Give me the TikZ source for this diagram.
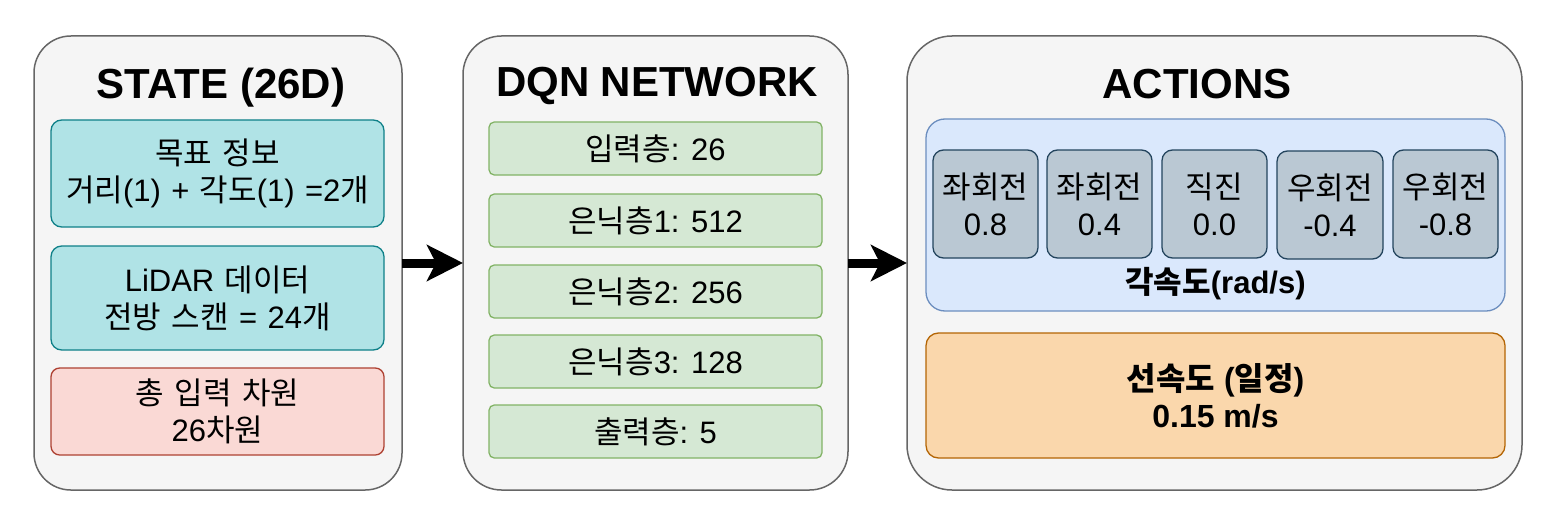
\documentclass[tikz,border=0pt]{standalone}
\usepackage{fontspec}
\setmainfont{Liberation Sans}
\newfontfamily\kr{Noto Sans CJK KR}
\usetikzlibrary{arrows.meta}
\definecolor{contfill}{HTML}{F5F5F5}
\definecolor{contline}{HTML}{666666}
\definecolor{tealfill}{HTML}{B0E3E6}
\definecolor{tealline}{HTML}{0E8088}
\definecolor{redfill}{HTML}{FAD9D5}
\definecolor{redline}{HTML}{AE4132}
\definecolor{greenfill}{HTML}{D5E8D4}
\definecolor{greenline}{HTML}{82B366}
\definecolor{bluefill}{HTML}{DAE8FC}
\definecolor{blueline}{HTML}{6C8EBF}
\definecolor{grayfill}{HTML}{BAC8D3}
\definecolor{grayline}{HTML}{23445D}
\definecolor{orangefill}{HTML}{FAD7AC}
\definecolor{orangeline}{HTML}{B46504}
\begin{document}
\begin{tikzpicture}[x=1pt,y=-1pt,
  every node/.style={inner sep=0pt, outer sep=0pt, align=center},
  cont/.style={draw=contline, fill=contfill, line width=1.5pt},
  bx/.style={line width=1.3pt, font=\fontsize{31}{37}\selectfont},
  tealbox/.style={bx, draw=tealline, fill=tealfill, rounded corners=10.7pt, minimum width=333pt, text width=330pt},
  redbox/.style={bx, draw=redline, fill=redfill, rounded corners=8.7pt, minimum width=333pt, text width=330pt},
  greenbox/.style={bx, draw=greenline, fill=greenfill, rounded corners=5.3pt, minimum width=333pt, minimum height=53pt},
  actbox/.style={bx, draw=grayline, fill=grayfill, rounded corners=10.5pt, minimum height=108pt},
  title/.style={font=\fontsize{42}{48}\selectfont\bfseries},
  flow/.style={line width=9pt, -{Stealth[length=36pt,width=36pt,inset=9pt]}}
]
\useasboundingbox (0,0) rectangle (1552,532);
% containers
\node[cont, rounded corners=36.8pt, minimum width=368pt, minimum height=454pt] (state) at (218,263) {};
\node[cont, rounded corners=38.5pt, minimum width=385pt, minimum height=454pt] (dqn) at (655.5,263) {};
\node[cont, rounded corners=45pt, minimum width=615pt, minimum height=454pt] (act) at (1214.5,263) {};
% titles
\node[title] (tstate) at (221,88) {STATE (26D)};
\node[title] (tdqn) at (657,86) {DQN NETWORK};
\node[title] (tact) at (1197,84) {ACTIONS};
% state boxes
\node[tealbox, minimum height=107pt] (s1) at (217.5,173.5) {{\kr 목표 정보}\\{\kr 거리}(1) + {\kr 각도}(1) =2{\kr 개}};
\node[tealbox, minimum height=104pt] (s2) at (217.5,298) {LiDAR {\kr 데이터}\\{\kr 전방 스캔} = 24{\kr 개}};
\node[redbox, minimum height=87pt] (s3) at (217.5,411.5) {{\kr 총 입력 차원}\\26{\kr 차원}};
% dqn boxes
\node[greenbox] (d1) at (655.5,148.5) {{\kr 입력층}: 26};
\node[greenbox] (d2) at (655.5,220.5) {{\kr 은닉층}1: 512};
\node[greenbox] (d3) at (655.5,291.5) {{\kr 은닉층}2: 256};
\node[greenbox] (d4) at (655.5,361.5) {{\kr 은닉층}3: 128};
\node[greenbox] (d5) at (655.5,431.5) {{\kr 출력층}: 5};
% actions
\node[bx, draw=blueline, fill=bluefill, rounded corners=19pt, minimum width=579pt, minimum height=192pt] (ang) at (1215.5,215) {};
\node[bx, font=\fontsize{31}{37}\selectfont\bfseries] (angl) at (1215.5,284) {{\kr\bfseries 각속도}(rad/s)};
\node[actbox, minimum width=105pt] (a1) at (985.5,204) {{\kr 좌회전}\\0.8};
\node[actbox, minimum width=105pt] (a2) at (1099.5,204) {{\kr 좌회전}\\0.4};
\node[actbox, minimum width=105pt] (a3) at (1214.5,204) {{\kr 직진}\\0.0};
\node[actbox, minimum width=106pt] (a4) at (1330,205) {{\kr 우회전}\\-0.4};
\node[actbox, minimum width=105pt] (a5) at (1445.5,204) {{\kr 우회전}\\-0.8};
\node[bx, draw=orangeline, fill=orangefill, rounded corners=12.5pt, minimum width=579pt, minimum height=125pt, font=\fontsize{32}{37}\selectfont\bfseries] (lin) at (1215.5,395.5) {{\kr\bfseries 선속도} ({\kr\bfseries 일정})\\0.15 m/s};
% connectors
\draw[flow] (state.east) -- (dqn.west);
\draw[flow] (dqn.east) -- (act.west);
\end{tikzpicture}
\end{document}
